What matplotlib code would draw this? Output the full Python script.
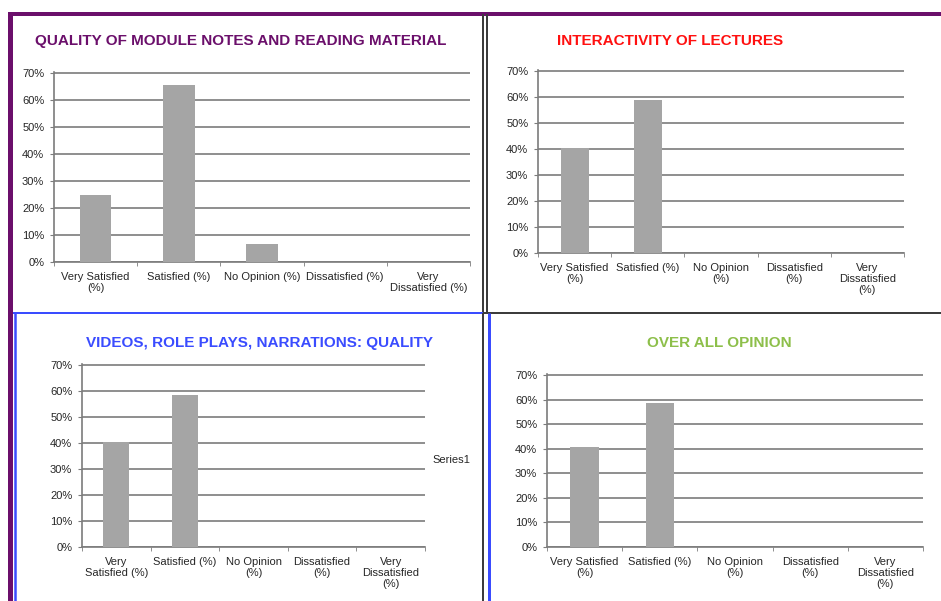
import matplotlib
matplotlib.use('Agg')
import matplotlib.pyplot as plt
from matplotlib.lines import Line2D


W, H = 941, 601
DPI = 100

plt.rcParams['font.family'] = ['Liberation Sans', 'DejaVu Sans']

# tick labels, wrapped the way each chart wraps them
labels_notes = ['Very Satisfied\n(%)', 'Satisfied (%)', 'No Opinion (%)',
                'Dissatisfied (%)', 'Very\nDissatisfied (%)']
labels_lectures = ['Very Satisfied\n(%)', 'Satisfied (%)', 'No Opinion\n(%)',
                   'Dissatisfied\n(%)', 'Very\nDissatisfied\n(%)']
labels_videos = ['Very\nSatisfied (%)', 'Satisfied (%)', 'No Opinion\n(%)',
                 'Dissatisfied\n(%)', 'Very\nDissatisfied\n(%)']
labels_overall = labels_lectures

# survey results, percent of respondents
notes_pct = [25, 65.7, 6.6, 0, 0]
lectures_pct = [40.5, 58.7, 0, 0, 0]
videos_pct = [40.5, 58.3, 0, 0, 0]
overall_pct = [40.5, 58.4, 0, 0, 0]

yticks = [0, 10, 20, 30, 40, 50, 60, 70]
ytick_labels = ['%d%%' % v for v in yticks]

bar_color = '#a5a5a5'
grid_color = '#7c7c7c'
text_color = '#262626'
purple = '#6b0f6b'
blue = '#3a4cff'
dark = '#3c3c3c'


def px_axes(fig, left, top, right, bottom):
    return fig.add_axes([left / W, 1 - bottom / H,
                         (right - left) / W, (bottom - top) / H])


def line(fig, x0, y0, x1, y1, color, width):
    fig.add_artist(Line2D([x0 / W, x1 / W], [1 - y0 / H, 1 - y1 / H],
                          transform=fig.transFigure, color=color,
                          linewidth=width * 72 / DPI, solid_capstyle='butt'))


def chart(fig, box, values, labels, title, title_color, title_pos):
    ax = px_axes(fig, *box)
    x = list(range(len(values)))
    ax.bar(x, values, width=0.38, color=bar_color, zorder=3)
    ax.set_xlim(-0.5, len(values) - 0.5)
    ax.set_ylim(0, 70.4)
    ax.set_yticks(yticks)
    ax.set_yticklabels(ytick_labels)
    ax.set_xticks(x)
    ax.set_xticklabels(labels, linespacing=1.15)
    ax.set_xticks([i - 0.5 for i in range(len(values) + 1)], minor=True)
    ax.yaxis.grid(True, color=grid_color, linewidth=1.2, zorder=0)
    ax.set_axisbelow(True)
    for side in ('top', 'right'):
        ax.spines[side].set_visible(False)
    for side in ('left', 'bottom'):
        ax.spines[side].set_color(grid_color)
        ax.spines[side].set_linewidth(1.2)
    ax.tick_params(axis='x', which='major', length=0, pad=7,
                   labelsize=8, labelcolor=text_color)
    ax.tick_params(axis='x', which='minor', length=3, color=grid_color)
    ax.tick_params(axis='y', length=3, pad=4, color=grid_color,
                   labelsize=8, labelcolor=text_color)
    fig.text(title_pos[0] / W, 1 - title_pos[1] / H, title,
             color=title_color, fontsize=11, fontweight='bold',
             ha='center', va='center')
    return ax


fig = plt.figure(figsize=(W / DPI, H / DPI), dpi=DPI)
fig.patch.set_facecolor('white')

chart(fig, (54, 72, 470, 262), notes_pct, labels_notes,
      'QUALITY OF MODULE NOTES AND READING MATERIAL', purple, (241, 41))
chart(fig, (538, 70, 904, 253), lectures_pct, labels_lectures,
      'INTERACTIVITY OF LECTURES', '#ff1010', (670, 41))
chart(fig, (82, 364, 425, 547), videos_pct, labels_videos,
      'VIDEOS, ROLE PLAYS, NARRATIONS: QUALITY', blue, (260, 343))
chart(fig, (547, 374, 923, 547), overall_pct, labels_overall,
      'OVER ALL OPINION', '#8dbf4a', (719, 343))

fig.text(432 / W, 1 - 460 / H, 'Series1', fontsize=8, color=text_color,
         ha='left', va='center')

# panel frames
line(fig, 8, 14, 941, 14, purple, 4)
line(fig, 10, 12, 10, 601, purple, 5)
line(fig, 482.5, 14, 482.5, 313, dark, 2)
line(fig, 487, 14, 487, 313, dark, 2)
line(fig, 13, 313, 483, 313, blue, 2)
line(fig, 14.5, 313, 14.5, 601, blue, 2.5)
line(fig, 483, 313, 941, 313, dark, 2)
line(fig, 483, 313, 483, 601, dark, 2)
line(fig, 489, 313, 489, 601, blue, 3)

fig.savefig('out.png', dpi=DPI, facecolor='white')
